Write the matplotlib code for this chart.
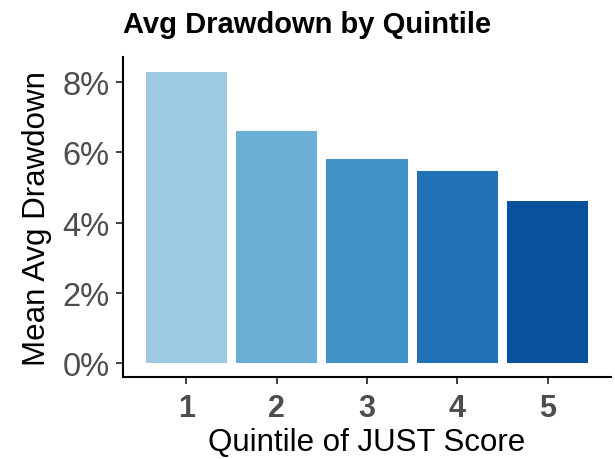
import matplotlib
matplotlib.use('Agg')
import matplotlib.pyplot as plt
from matplotlib.ticker import FuncFormatter

plt.rcParams['font.family'] = ['Liberation Sans', 'DejaVu Sans']

quintiles = ['1', '2', '3', '4', '5']
mean_drawdown = [8.31, 6.62, 5.80, 5.48, 4.61]
colors = ['#9ecae1', '#6baed6', '#4292c6', '#2171b5', '#08519c']

fig = plt.figure(figsize=(6.15, 4.6), dpi=100)
ax = fig.add_axes([0.2005, 0.1776, 0.7925, 0.6964])

x = range(1, len(quintiles) + 1)
ax.bar(x, mean_drawdown, width=0.9, color=colors)

ymax = max(mean_drawdown)
ax.set_xlim(0.3, 5.7)
ax.set_ylim(-0.05 * ymax, 1.05 * ymax)
ax.set_xticks(list(x))
ax.set_xticklabels(quintiles, fontweight='bold')
ax.set_yticks([0, 2, 4, 6, 8])
ax.yaxis.set_major_formatter(FuncFormatter(lambda v, p: f'{v:.0f}%'))

ax.tick_params(axis='both', colors='#333333', length=5, width=1.3,
               labelsize=23.5, labelcolor='#4d4d4d')
ax.tick_params(axis='y', pad=5)
ax.tick_params(axis='x', labelsize=22, pad=6)

for s in ['top', 'right']:
    ax.spines[s].set_visible(False)
for s in ['left', 'bottom']:
    ax.spines[s].set_linewidth(1.5)
    ax.spines[s].set_color('black')

ax.set_xlabel('Quintile of JUST Score', fontsize=22.5, labelpad=3)
ax.set_ylabel('Mean Avg Drawdown', fontsize=22.5, labelpad=7)
fig.text(0.2, 0.945, 'Avg Drawdown by Quintile', fontsize=21,
         fontweight='bold', ha='left', va='center')

fig.savefig('out.png', dpi=100)
